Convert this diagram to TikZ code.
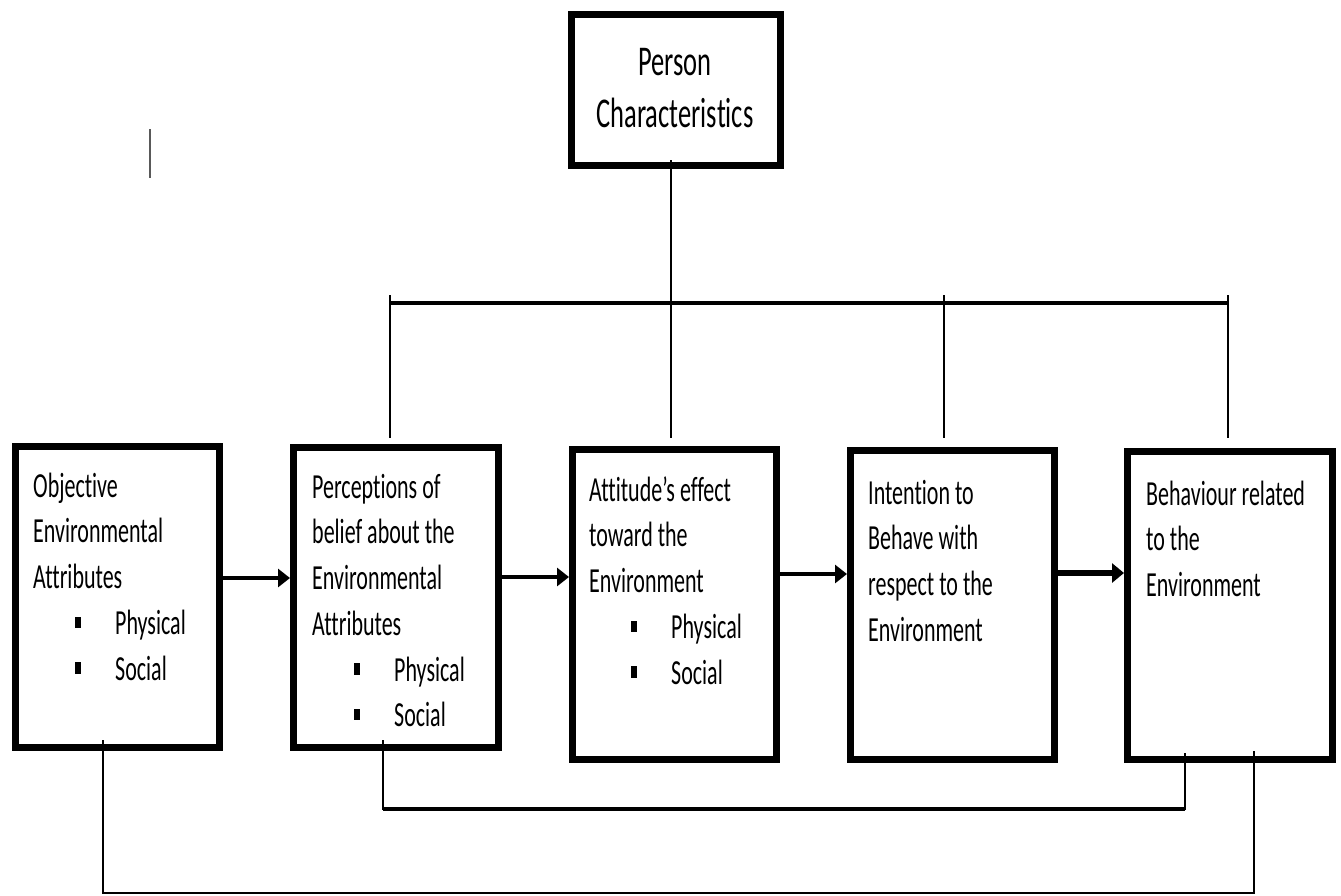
\documentclass[tikz,border=0pt]{standalone}
\usepackage{fontspec}
\setmainfont{Carlito}[Ligatures=NoCommon]
\usepackage{graphicx}
\usetikzlibrary{arrows.meta,calc}

% tall, condensed lettering
\newcommand{\tallt}[1]{\scalebox{1}[1.6]{#1}}
\newcommand{\sqbullet}{\rule[4pt]{6pt}{7pt}}
\newcommand{\bitem}[1]{\hspace*{42pt}\sqbullet\hspace*{34pt}#1}

\begin{document}
\begin{tikzpicture}[x=1pt,y=-1pt,
  box/.style={draw, line width=7pt, inner sep=0pt, fill=white},
  txt/.style={anchor=base west, inner sep=0pt, font=\fontsize{22}{28.6}\selectfont},
  link/.style={line width=2.2pt},
  bus/.style={line width=3.5pt},
  arr/.style={line width=3.5pt, -{Triangle[length=12pt,width=18pt]}},
  bigarr/.style={line width=5.5pt, -{Triangle[length=12pt,width=19pt]}}
]
\useasboundingbox (0,0) rectangle (1341,895);

% boxes
\node[box, minimum width=209pt, minimum height=151pt] (P) at (676,90) {};
\node[box, minimum width=204pt, minimum height=301pt] (B1) at (117.5,597) {};
\node[box, minimum width=205pt, minimum height=300pt] (B2) at (396,597.5) {};
\node[box, minimum width=204pt, minimum height=310pt] (B3) at (674.5,604.5) {};
\node[box, minimum width=204pt, minimum height=309pt] (B4) at (952.5,605) {};
\node[box, minimum width=205pt, minimum height=308pt] (B5) at (1230,605.5) {};

% box texts
\node[anchor=base, inner sep=0pt] (tP) at (675,75)
  {\tallt{\parbox[t]{200pt}{\centering\fontsize{26.5}{33}\selectfont Person\\Characteristics}}};
\node[txt] (t1) at (33,497)
  {\tallt{\parbox[t]{185pt}{\raggedright Objective\\Environmental\\Attributes\\\bitem{Physical}\\\bitem{Social}}}};
\node[txt] (t2) at (312,498)
  {\tallt{\parbox[t]{185pt}{\raggedright Perceptions of\\belief about the\\Environmental\\Attributes\\\bitem{Physical}\\\bitem{Social}}}};
\node[txt] (t3) at (589,501)
  {\tallt{\parbox[t]{185pt}{\raggedright Attitude’s effect\\toward the\\Environment\\\bitem{Physical}\\\bitem{Social}}}};
\node[txt] (t4) at (868,504)
  {\tallt{\parbox[t]{185pt}{\raggedright Intention to\\Behave with\\respect to the\\Environment}}};
\node[txt] (t5) at (1146,505)
  {\tallt{\parbox[t]{185pt}{\raggedright Behaviour related\\to the\\Environment}}};

% stray cursor mark
\draw[line width=2pt, black!65] (150,129) -- (150,178);

% person characteristics bus
\coordinate (busL) at (390,303);
\coordinate (busR) at (1228,303);
\coordinate (k2) at (390,295);
\coordinate (k4) at (944,295);
\coordinate (k5) at (1228,295);
\draw[bus] (busL) -- (busR);
\draw[link] ($(P.south)+(-5,-9)$) -- ($(B3.north)+(-3.5,-8)$);
\draw[link, shorten >=6pt] (k2) -- (k2 |- B2.north);
\draw[link, shorten >=9pt] (k4) -- (k4 |- B4.north);
\draw[link, shorten >=10pt] (k5) -- (k5 |- B5.north);

% forward arrows
\coordinate (a1) at ($(B1.east)+(0,-19)$);
\coordinate (a2) at ($(B2.east)+(0,-20.5)$);
\coordinate (a3) at ($(B3.east)+(0,-30.5)$);
\coordinate (a4) at ($(B4.east)+(0,-32)$);
\draw[arr] (a1) -- (a1 -| B2.west);
\draw[arr] (a2) -- (a2 -| B3.west);
\draw[arr] (a3) -- (a3 -| B4.west);
\draw[bigarr] (a4) -- (a4 -| B5.west);

% feedback loops
\coordinate (f5a) at ($(B5.south)+(-45,-10)$);
\coordinate (f2) at ($(B2.south)+(-13,-11)$);
\coordinate (mid) at (0,809);
\draw[link] (f5a) -- (f5a |- mid) -- (f2 |- mid) -- (f2);
\draw[bus] (f5a |- mid) -- (f2 |- mid);

\coordinate (f5b) at ($(B5.south)+(24,-12)$);
\coordinate (f1) at ($(B1.south)+(-14.5,-11)$);
\coordinate (low) at (0,893);
\draw[link] (f5b) -- (f5b |- low) -- (f1 |- low) -- (f1);
\end{tikzpicture}
\end{document}
